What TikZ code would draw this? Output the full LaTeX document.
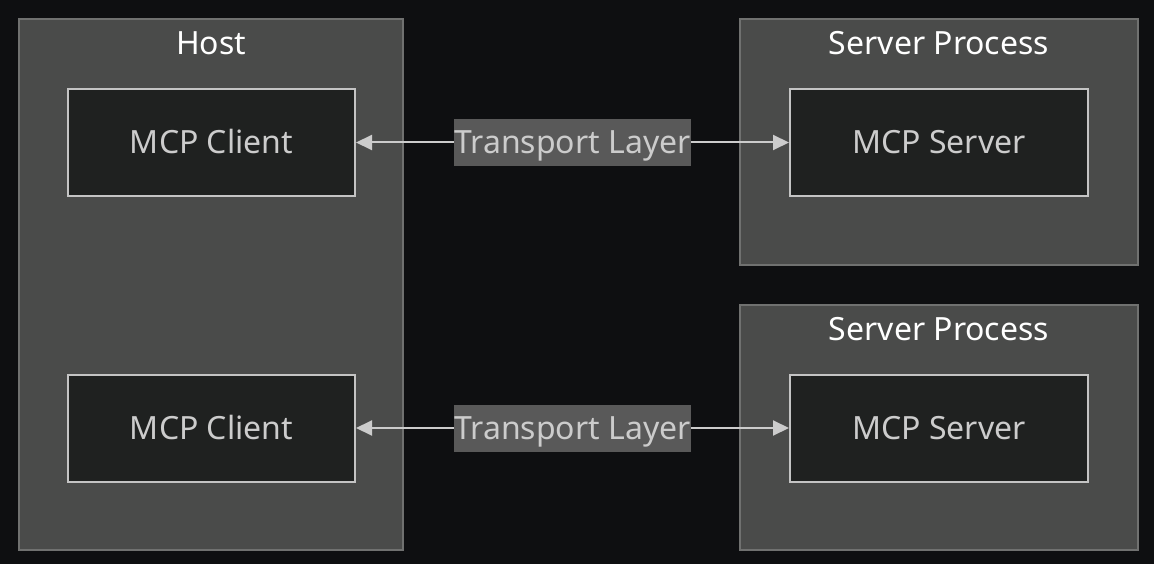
\documentclass[tikz,border=0pt]{standalone}
\usepackage{fontspec}
\setmainfont{Noto Sans}
\usetikzlibrary{arrows.meta, positioning}
\usepackage{xcolor}
\definecolor{bgdark}{HTML}{0E0F11}
\definecolor{clusterfill}{HTML}{4A4B4A}
\definecolor{clusterline}{HTML}{707170}
\definecolor{nodefill}{HTML}{1F2120}
\definecolor{nodeline}{HTML}{C4C4C4}
\definecolor{nodetext}{HTML}{CCCCCC}
\definecolor{labelfill}{HTML}{595959}

\begin{document}
\begin{tikzpicture}[x=1pt, y=-1pt,
            cluster box/.style={rectangle, draw=clusterline, fill=clusterfill, line width=1.5pt, inner sep=0pt},
            cluster title/.style={anchor=base, text=white, font=\fontsize{32}{38}\selectfont},
            mcp node/.style={rectangle, draw=nodeline, fill=nodefill, line width=2pt, text=nodetext,
                minimum height=107pt, inner sep=0pt, text height=23pt, text depth=0pt,
                font=\fontsize{32}{38}\selectfont},
            link/.style={draw=nodetext, line width=2pt, {Triangle[length=16pt, width=15pt]}-{Triangle[length=16pt, width=15pt]}},
            link label/.style={fill=labelfill, text=nodetext, inner xsep=0pt, inner ysep=0pt,
                minimum height=47pt, text height=23pt, text depth=0pt, font=\fontsize{32}{38}\selectfont}]

            \fill[bgdark] (0,0) rectangle (1154,564);
            \useasboundingbox (0,0) rectangle (1154,564);

            % clusters
            \node[cluster box, minimum width=384pt, minimum height=531pt] (Host) at (211,284.5) {};
            \node[cluster box, minimum width=398pt, minimum height=246pt] (Srv1) at (939,142) {};
            \node[cluster box, minimum width=398pt, minimum height=245pt] (Srv2) at (939,427.5) {};

            \node[cluster title] (HostT) at (211,55) {Host};
            \node[cluster title] (Srv1T) at (939,55) {Server Process};
            \node[cluster title] (Srv2T) at (939,340) {Server Process};

            % nodes
            \node[mcp node, minimum width=287pt] (Client1) at (211.5,142.5) {MCP Client};
            \node[mcp node, minimum width=287pt] (Client2) at (211.5,428) {MCP Client};
            \node[mcp node, minimum width=298pt] (Server1) at (939,142.5) {MCP Server};
            \node[mcp node, minimum width=298pt] (Server2) at (939,428) {MCP Server};

            % links
            \draw[link] (Client1) -- node[link label] {Transport Layer} (Server1);
            \draw[link] (Client2) -- node[link label] {Transport Layer} (Server2);

        \end{tikzpicture}
\end{document}
